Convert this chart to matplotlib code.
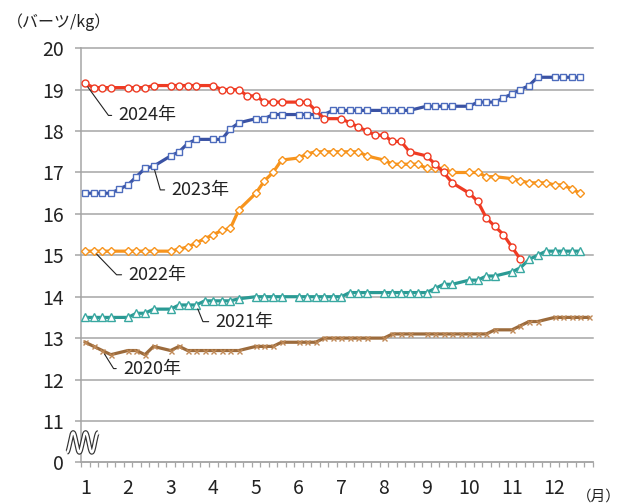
import numpy as np
import matplotlib.pyplot as plt

# weekly price, 5 slots per month (None = no reading in that slot)
slots_per_month = 5
months = [str(m) for m in range(1, 13)]
y_ticks = [10, 11, 12, 13, 14, 15, 16, 17, 18, 19, 20]
y_tick_labels = ["0", "11", "12", "13", "14", "15", "16", "17", "18", "19", "20"]

y2024 = [19.15, 19.05, 19.05, 19.05, None, 19.05, 19.05, 19.05, 19.1, None,
         19.1, 19.1, 19.1, 19.1, None, 19.1, 19.0, 19.0, 19.0, 18.85,
         18.85, 18.7, 18.7, 18.7, None, 18.7, 18.7, 18.5, 18.3, None,
         18.3, 18.2, 18.1, 18.0, 17.9, 17.9, 17.75, 17.75, 17.5, None,
         17.4, 17.2, 17.0, 16.75, None, 16.5, 16.3, 15.9, 15.7, 15.5,
         15.2, 14.9, None, None, None, None, None, None, None, None]

y2023 = [16.5, 16.5, 16.5, 16.5, 16.6, 16.7, 16.9, 17.1, 17.15, None,
         17.4, 17.5, 17.7, 17.8, None, 17.8, 17.8, 18.05, 18.2, None,
         18.3, 18.3, 18.4, 18.4, None, 18.4, 18.4, 18.4, 18.4, 18.5,
         18.5, 18.5, 18.5, 18.5, None, 18.5, 18.5, 18.5, 18.5, None,
         18.6, 18.6, 18.6, 18.6, None, 18.6, 18.7, 18.7, 18.7, 18.8,
         18.9, 19.0, 19.1, 19.3, None, 19.3, 19.3, 19.3, 19.3, None]

y2022 = [15.1, 15.1, 15.1, 15.1, None, 15.1, 15.1, 15.1, 15.1, None,
         15.1, 15.15, 15.2, 15.3, 15.4, 15.5, 15.6, 15.65, 16.1, None,
         16.5, 16.8, 17.0, 17.3, None, 17.35, 17.45, 17.5, 17.5, 17.5,
         17.5, 17.5, 17.5, 17.4, None, 17.3, 17.2, 17.2, 17.2, 17.2,
         17.1, 17.1, 17.1, 17.0, None, 17.0, 17.0, 16.9, 16.9, None,
         16.85, 16.8, 16.75, 16.75, 16.75, 16.7, 16.7, 16.6, 16.5, None]

y2021 = [13.5, 13.5, 13.5, 13.5, None, 13.5, 13.6, 13.6, 13.7, None,
         13.7, 13.8, 13.8, 13.8, 13.9, 13.9, 13.9, 13.9, 13.95, None,
         14.0, 14.0, 14.0, 14.0, None, 14.0, 14.0, 14.0, 14.0, 14.0,
         14.0, 14.1, 14.1, 14.1, None, 14.1, 14.1, 14.1, 14.1, 14.1,
         14.1, 14.2, 14.3, 14.3, None, 14.4, 14.4, 14.5, 14.5, None,
         14.6, 14.7, 14.9, 15.0, 15.1, 15.1, 15.1, 15.1, 15.1, None]

y2020 = [12.9, 12.8, 12.7, 12.6, None, 12.7, 12.7, 12.6, 12.8, None,
         12.7, 12.8, 12.7, 12.7, 12.7, 12.7, 12.7, 12.7, 12.7, None,
         12.8, 12.8, 12.8, 12.9, None, 12.9, 12.9, 12.9, 13.0, 13.0,
         13.0, 13.0, 13.0, 13.0, None, 13.0, 13.1, 13.1, 13.1, None,
         13.1, 13.1, 13.1, 13.1, 13.1, 13.1, 13.1, 13.1, 13.2, None,
         13.2, 13.3, 13.4, 13.4, None, 13.5, 13.5, 13.5, 13.5, 13.5]

# (label, values, line colour, marker, marker edge, marker size, label anchor slot, text offset pts, leader angle)
series = [
    ("2020年", y2020, "#9c6b3c", "x", "#c08a58", 3.6, 2, (15, -13), 122),
    ("2021年", y2021, "#2a9a94", "^", "#39a8a1", 5.4, 13, (14, -12), 112),
    ("2022年", y2022, "#f7941d", "D", "#f7941d", 4.2, 1, (25, -17), 134),
    ("2023年", y2023, "#3a52a4", "s", "#4d6cbd", 4.8, 8, (13, -17), 106),
    ("2024年", y2024, "#ef3b23", "o", "#ef3b23", 5.0, 0, (24, -23), 126),
]

plt.rcParams["font.family"] = ["Liberation Sans Narrow", "Noto Sans CJK JP", "DejaVu Sans"]
text_color = "#222222"
grid_color = "#a6a6a6"

fig = plt.figure(figsize=(6.22, 5.04), dpi=100)
ax = fig.add_axes([0.1302, 0.0827, 0.8232, 0.8215])


def slot_x(i):
    return 1 + i / slots_per_month


for name, vals, color, marker, edge, ms, anchor, offset, angle in series:
    idx = [i for i, v in enumerate(vals) if v is not None]
    xs = [slot_x(i) for i in idx]
    ys = [vals[i] for i in idx]
    ax.plot(xs, ys, color=color, lw=2.3, marker=marker, markersize=ms,
            markerfacecolor="white", markeredgecolor=edge,
            markeredgewidth=1.0, zorder=3)
    ax.annotate(name, xy=(slot_x(anchor), vals[anchor]), xytext=offset,
                textcoords="offset points", ha="left", va="center",
                fontsize=13, color=text_color,
                arrowprops=dict(arrowstyle="-", color="#222222", lw=0.8,
                                shrinkA=3, shrinkB=3, relpos=(0, 0.5),
                                connectionstyle=f"angle,angleA=0,angleB={angle},rad=0"),
                zorder=6)

ax.set_xlim(1 - 0.5 / slots_per_month, 1 + 59.5 / slots_per_month)
ax.set_ylim(10, 20)

ax.set_xticks(range(1, 13))
ax.set_xticklabels(months)
ax.set_xticks(np.arange(0, 61) / slots_per_month + 1 - 0.5 / slots_per_month, minor=True)
ax.tick_params(axis="x", which="major", length=0, pad=11, labelsize=14, labelcolor=text_color)
ax.tick_params(axis="x", which="minor", length=3.5, width=0.9, color=grid_color, direction="out")

ax.set_yticks(y_ticks)
ax.set_yticklabels(y_tick_labels)
ax.tick_params(axis="y", length=4, width=1.1, color=grid_color, pad=8, labelsize=14,
               labelcolor=text_color)

ax.grid(axis="y", color=grid_color, lw=1.1)
for gl in ax.get_ygridlines():
    gl.set_clip_on(False)
ax.set_axisbelow(True)

for side in ["top", "right"]:
    ax.spines[side].set_visible(False)
for side in ["left", "bottom"]:
    ax.spines[side].set_color(grid_color)
    ax.spines[side].set_linewidth(1.1)

# axis break mark on the y axis
t = np.linspace(0, 1, 300)
wx = 0.57 + 0.73 * t
wy = 10.48 - 0.24 * np.cos(2 * np.pi * 2.5 * t)
ax.plot(wx, wy, color="#333333", lw=3.4, clip_on=False, zorder=7, solid_capstyle="butt")
ax.plot(wx, wy, color="white", lw=1.7, clip_on=False, zorder=8, solid_capstyle="butt")

fig.text(7 / 622, 1 - 22 / 504, "（バーツ/kg）", fontsize=11.5, color=text_color,
         family=["Noto Sans CJK JP", "DejaVu Sans"], ha="left", va="center")
fig.text(621 / 622, 1 - 497 / 504, "（月）", fontsize=10.5, color=text_color,
         family=["Noto Sans CJK JP", "DejaVu Sans"], ha="right", va="center")

fig.savefig("out.png", dpi=100, facecolor="white")
